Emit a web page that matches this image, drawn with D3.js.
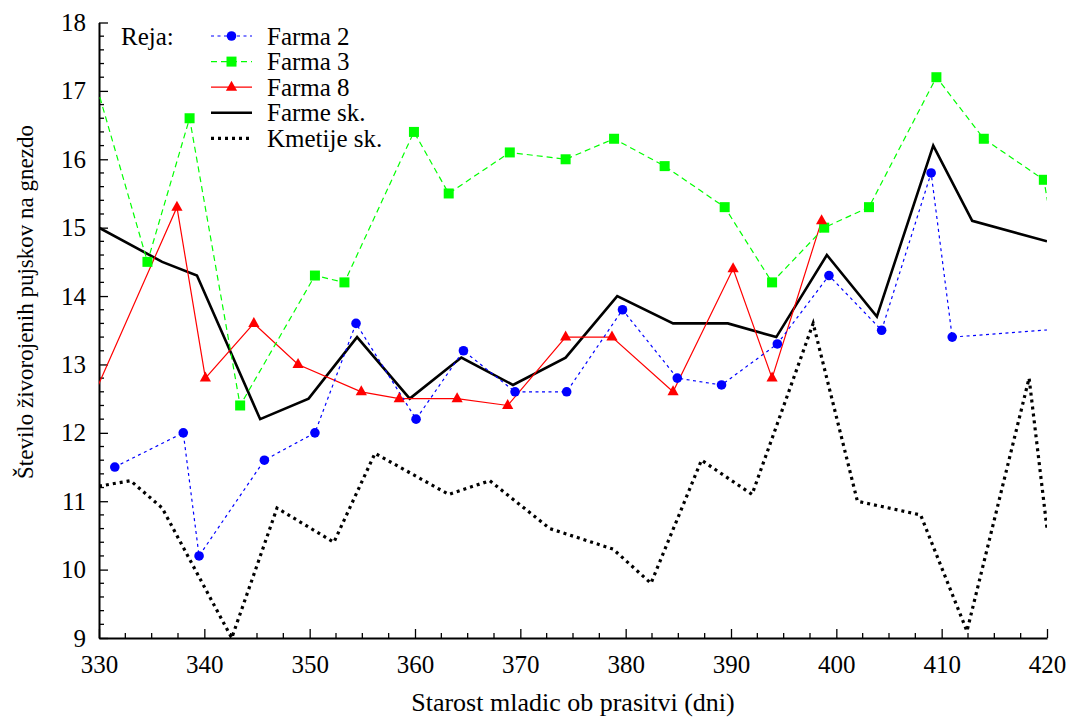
<!DOCTYPE html>
<html>
<head>
<meta charset="utf-8">
<script src="https://cdn.jsdelivr.net/npm/d3@7"></script>
<style>
  body { margin: 0; background: #fff; }
  svg { display: block; }
  text { font-family: "Liberation Serif", Tinos, "Times New Roman", Times, "Noto Serif", "DejaVu Serif", FreeSerif, serif; fill: #000; }
</style>
</head>
<body>
<svg id="graf"></svg>
<script>
// Podatki: [starost (dni), stevilo zivorojenih]
var farma2 = [[331.5, 11.5], [338.0, 12.0], [339.5, 10.2], [345.7, 11.6], [350.5, 12.0], [354.4, 13.6],
  [360.1, 12.2], [364.6, 13.2], [369.5, 12.6], [374.4, 12.6], [379.7, 13.8], [384.9, 12.8], [389.1, 12.7],
  [394.4, 13.3], [399.3, 14.3], [404.3, 13.5], [409.0, 15.8], [411.0, 13.4], [424.0, 13.55]];
var farma3 = [[328.5, 17.75], [334.6, 14.5], [338.6, 16.6], [343.4, 12.4], [350.5, 14.3], [353.3, 14.2],
  [359.9, 16.4], [363.2, 15.5], [369.0, 16.1], [374.3, 16.0], [378.9, 16.3], [383.7, 15.9], [389.4, 15.3],
  [393.9, 14.2], [398.85, 15.0], [403.1, 15.3], [409.5, 17.2], [414.0, 16.3], [419.7, 15.7], [421.5, 14.1]];
var farma8 = [[328.5, 12.2], [337.4, 15.3], [340.1, 12.8], [344.7, 13.6], [348.9, 13.0], [354.9, 12.6],
  [358.5, 12.5], [364.0, 12.5], [368.8, 12.4], [374.3, 13.4], [378.7, 13.4], [384.5, 12.6], [390.2, 14.4],
  [393.9, 12.8], [398.6, 15.1]];
var farmeSk = [[330, 15.0], [336.0, 14.5], [339.3, 14.3], [345.3, 12.2], [349.9, 12.5], [354.5, 13.4],
  [359.5, 12.5], [364.4, 13.1], [369.3, 12.7], [374.3, 13.1], [379.2, 14.0], [384.5, 13.6], [389.7, 13.6],
  [394.3, 13.4], [399.1, 14.6], [403.85, 13.7], [409.2, 16.2], [412.9, 15.1], [420, 14.8]];
var kmetijeSk = [[330, 11.22], [333.0, 11.3], [336.0, 10.9], [342.6, 9.0], [346.9, 10.9], [352.3, 10.4],
  [356.2, 11.7], [363.2, 11.1], [367.1, 11.3], [372.8, 10.6], [378.8, 10.3], [382.4, 9.8], [387.2, 11.6],
  [392.0, 11.1], [397.8, 13.6], [402.0, 11.0], [408.0, 10.8], [412.4, 9.1], [418.3, 12.8], [420, 10.6]];

var xTicks = [330, 340, 350, 360, 370, 380, 390, 400, 410, 420];
var yTicks = [9, 10, 11, 12, 13, 14, 15, 16, 17, 18];
var legendNames = ["Farma 2", "Farma 3", "Farma 8", "Farme sk.", "Kmetije sk."];

var pisava = '"Liberation Serif", Tinos, "Times New Roman", Times, "Noto Serif", "DejaVu Serif", FreeSerif, serif';
var sirina = 1073, visina = 718;
var m = { left: 99, right: 26, top: 22.5, bottom: 80 };

var svg = d3.select("#graf").attr("width", sirina).attr("height", visina);

var x = d3.scaleLinear().domain([330, 420]).range([m.left, sirina - m.right]);
var y = d3.scaleLinear().domain([9, 18]).range([visina - m.bottom, m.top]);

// Obrezovanje na obmocje grafa
svg.append("clipPath").attr("id", "obrez")
  .append("rect")
  .attr("x", x(330)).attr("y", y(18))
  .attr("width", x(420) - x(330)).attr("height", y(9) - y(18));

// Manjse oznake
var g = svg.append("g");
g.selectAll(".mx").data(d3.range(330, 420.1, 2.5).filter(function (v) { return v % 10 !== 0; }))
  .join("line")
  .attr("x1", function (d) { return x(d); }).attr("x2", function (d) { return x(d); })
  .attr("y1", y(9)).attr("y2", y(9) - 5)
  .attr("stroke", "#000").attr("stroke-width", 1.3);
g.selectAll(".my").data(d3.range(9, 18.01, 0.2).filter(function (v) { return Math.abs(v - Math.round(v)) > 0.01; }))
  .join("line")
  .attr("x1", x(330)).attr("x2", x(330) + 5)
  .attr("y1", function (d) { return y(d); }).attr("y2", function (d) { return y(d); })
  .attr("stroke", "#000").attr("stroke-width", 1.3);

// Osi
var osX = svg.append("g")
  .attr("transform", "translate(0," + y(9) + ")")
  .call(d3.axisBottom(x).tickValues(xTicks).tickSizeInner(-9).tickSizeOuter(0).tickPadding(17));
var osY = svg.append("g")
  .attr("transform", "translate(" + x(330) + ",0)")
  .call(d3.axisLeft(y).tickValues(yTicks).tickSizeInner(-9).tickSizeOuter(0).tickPadding(13));
[osX, osY].forEach(function (os) {
  os.attr("font-family", null);
  os.select(".domain").attr("stroke-width", 2);
  os.selectAll(".tick line").attr("stroke-width", 1.3);
  os.selectAll("text").style("font-size", "25px").style("font-family", pisava);
});

// Naslova osi
svg.append("text")
  .attr("x", (x(330) + x(420)) / 2).attr("y", 711)
  .attr("text-anchor", "middle").style("font-size", "26px")
  .text("Starost mladic ob prasitvi (dni)");
svg.append("text")
  .attr("transform", "translate(33,302) rotate(-90)")
  .attr("text-anchor", "middle").style("font-size", "23px")
  .text("Število živorojenih pujskov na gnezdo");

// Stili serij
var serije = [
  { podatki: farma2, barva: "#0000ff", sirina: 1.2, crte: "3,3.5", znak: "krog" },
  { podatki: farma3, barva: "#00ff00", sirina: 1.2, crte: "6,4", znak: "kvadrat" },
  { podatki: farma8, barva: "#ff0000", sirina: 1.2, crte: null, znak: "trikotnik" },
  { podatki: farmeSk, barva: "#000000", sirina: 2.6, crte: null, znak: null },
  { podatki: kmetijeSk, barva: "#000000", sirina: 3.2, crte: "3,4", znak: null }
];

var linija = d3.line()
  .x(function (d) { return x(d[0]); })
  .y(function (d) { return y(d[1]); });

function narisiZnak(sel, tip, barva) {
  if (tip === "krog") {
    sel.append("circle").attr("r", 4.8).attr("fill", barva);
  } else if (tip === "kvadrat") {
    sel.append("rect").attr("x", -5).attr("y", -5).attr("width", 10).attr("height", 10).attr("fill", barva);
  } else if (tip === "trikotnik") {
    sel.append("path").attr("d", "M0,-6.5L5.6,3.5L-5.6,3.5Z").attr("fill", barva);
  }
}

var risba = svg.append("g").attr("clip-path", "url(#obrez)");
// Crte od zadaj naprej
serije.slice().reverse().forEach(function (s) {
  risba.append("path")
    .datum(s.podatki)
    .attr("d", linija)
    .attr("fill", "none")
    .attr("stroke", s.barva)
    .attr("stroke-width", s.sirina)
    .attr("stroke-dasharray", s.crte)
    .attr("stroke-linejoin", "miter");
});
serije.forEach(function (s) {
  if (!s.znak) return;
  risba.selectAll(null)
    .data(s.podatki)
    .join("g")
    .attr("transform", function (d) { return "translate(" + x(d[0]) + "," + y(d[1]) + ")"; })
    .each(function () { narisiZnak(d3.select(this), s.znak, s.barva); });
});

// Legenda
svg.append("text").attr("x", 121).attr("y", 45).style("font-size", "25px").text("Reja:");
var leg = svg.append("g");
serije.forEach(function (s, i) {
  var yy = 36 + i * 25.6;
  leg.append("line")
    .attr("x1", 211).attr("x2", 252).attr("y1", yy).attr("y2", yy)
    .attr("stroke", s.barva).attr("stroke-width", s.sirina)
    .attr("stroke-dasharray", s.crte);
  var z = leg.append("g").attr("transform", "translate(231.5," + yy + ")");
  narisiZnak(z, s.znak, s.barva);
  leg.append("text").attr("x", 267).attr("y", yy + 8.5)
    .style("font-size", "25px").text(legendNames[i]);
});
</script>
</body>
</html>
